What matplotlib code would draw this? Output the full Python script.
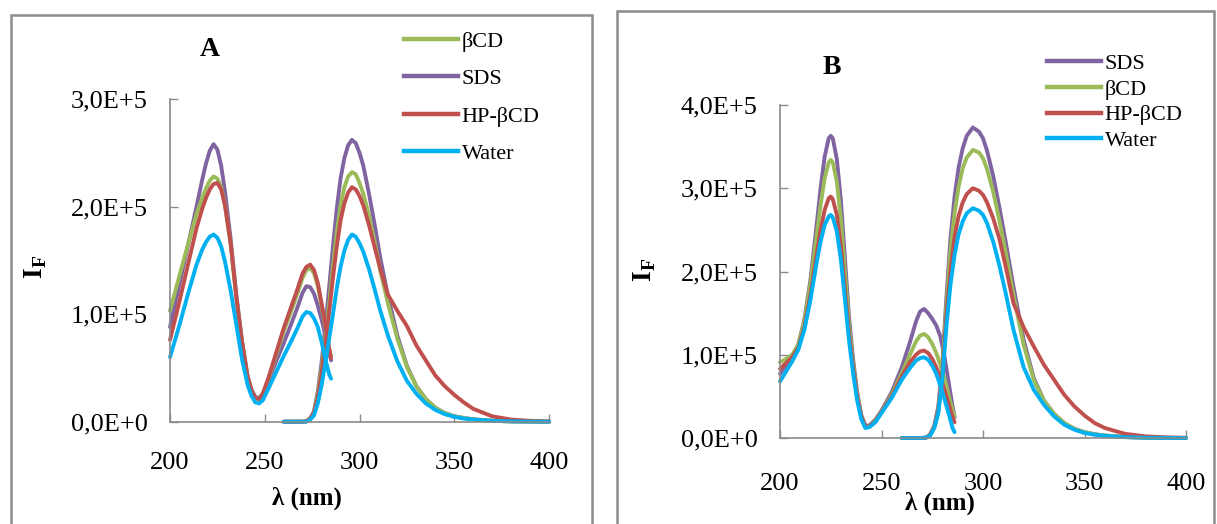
import matplotlib
matplotlib.use("Agg")
import matplotlib.pyplot as plt
from matplotlib.patches import Rectangle
from matplotlib.lines import Line2D

plt.rcParams['font.family'] = ['Liberation Serif', 'DejaVu Serif']
plt.rcParams['mathtext.fontset'] = 'custom'
plt.rcParams['mathtext.rm'] = 'Liberation Serif'
plt.rcParams['mathtext.bf'] = 'Liberation Serif:bold'

# ---------------- data (intensity in units of 1E+5) ----------------
x_ticks = [200, 250, 300, 350, 400]
x_tick_labels = ["200", "250", "300", "350", "400"]
yA_ticks = [0, 1, 2, 3]
yA_tick_labels = ["0,0E+0", "1,0E+5", "2,0E+5", "3,0E+5"]
yB_ticks = [0, 1, 2, 3, 4]
yB_tick_labels = ["0,0E+0", "1,0E+5", "2,0E+5", "3,0E+5", "4,0E+5"]

# Panel A - excitation
lamA_ex = [200, 205, 210, 214, 217, 219, 221, 223, 225, 227, 229, 232, 235, 238, 241, 243, 245,
           247, 249, 252, 256, 260, 264, 267, 270, 272, 274, 276, 278, 280, 282, 284, 285]
A_sds_ex = [0.88, 1.28, 1.68, 2.00, 2.25, 2.40, 2.52, 2.58, 2.53, 2.38, 2.14, 1.70, 1.18, 0.75, 0.42,
            0.30, 0.23, 0.22, 0.26, 0.38, 0.56, 0.73, 0.91, 1.05, 1.20, 1.26, 1.25, 1.19, 1.08, 0.95,
            0.80, 0.64, 0.57]
A_bcd_ex = [1.03, 1.36, 1.68, 1.93, 2.08, 2.17, 2.24, 2.28, 2.26, 2.18, 2.02, 1.65, 1.15, 0.74, 0.41,
            0.29, 0.22, 0.21, 0.26, 0.40, 0.62, 0.84, 1.03, 1.18, 1.34, 1.41, 1.43, 1.38, 1.26, 1.08,
            0.88, 0.68, 0.60]
A_hp_ex = [0.76, 1.12, 1.50, 1.80, 1.98, 2.08, 2.16, 2.21, 2.22, 2.16, 2.01, 1.66, 1.16, 0.74, 0.41,
           0.29, 0.22, 0.21, 0.26, 0.41, 0.64, 0.87, 1.07, 1.22, 1.38, 1.44, 1.46, 1.41, 1.29, 1.10,
           0.90, 0.68, 0.59]
A_water_ex = [0.60, 0.90, 1.22, 1.46, 1.60, 1.67, 1.72, 1.74, 1.71, 1.63, 1.49, 1.22, 0.90, 0.58, 0.34,
              0.24, 0.18, 0.17, 0.20, 0.31, 0.46, 0.61, 0.75, 0.86, 0.98, 1.02, 1.01, 0.96, 0.88, 0.74,
              0.58, 0.44, 0.40]

# Panel A - emission
lamA_em = [260, 265, 270, 272, 274, 276, 278, 280, 282, 284, 286, 288, 290, 292, 294, 296, 298, 300,
           302, 305, 308, 311, 315, 320, 325, 330, 335, 340, 345, 350, 355, 360, 370, 380, 390, 400]
A_sds_em = [0, 0, 0, 0.005, 0.03, 0.10, 0.28, 0.55, 0.88, 1.25, 1.63, 1.98, 2.26, 2.45, 2.57, 2.62,
            2.59, 2.50, 2.38, 2.12, 1.83, 1.52, 1.17, 0.80, 0.52, 0.33, 0.21, 0.13, 0.08, 0.05, 0.035,
            0.022, 0.009, 0.003, 0.001, 0]
A_bcd_em = [0, 0, 0, 0.005, 0.03, 0.09, 0.25, 0.49, 0.78, 1.10, 1.44, 1.76, 2.01, 2.18, 2.28, 2.32,
            2.30, 2.22, 2.12, 1.92, 1.67, 1.40, 1.10, 0.77, 0.51, 0.33, 0.21, 0.13, 0.08, 0.05, 0.035,
            0.022, 0.009, 0.003, 0.001, 0]
A_hp_em = [0, 0, 0, 0.005, 0.03, 0.08, 0.22, 0.45, 0.72, 1.02, 1.34, 1.63, 1.87, 2.03, 2.13, 2.18,
           2.16, 2.10, 2.01, 1.83, 1.62, 1.42, 1.18, 1.03, 0.89, 0.71, 0.57, 0.43, 0.33, 0.25, 0.18,
           0.12, 0.05, 0.02, 0.008, 0.003]
A_water_em = [0, 0, 0, 0.0, 0.02, 0.06, 0.17, 0.34, 0.55, 0.77, 1.00, 1.24, 1.44, 1.59, 1.69, 1.74,
              1.72, 1.66, 1.58, 1.42, 1.23, 1.03, 0.80, 0.56, 0.38, 0.26, 0.17, 0.11, 0.07, 0.045, 0.03,
              0.02, 0.008, 0.003, 0.001, 0]

# Panel B - excitation
lamB_ex = [200, 203, 206, 209, 212, 215, 218, 220, 222, 224, 225, 226, 228, 230, 232, 234, 236, 238,
           240, 242, 244, 247, 250, 255, 260, 264, 267, 269, 271, 273, 275, 277, 279, 281, 283, 285, 286]
B_sds_ex = [0.77, 0.88, 0.98, 1.12, 1.42, 1.90, 2.55, 3.00, 3.38, 3.60, 3.63, 3.60, 3.35, 2.85, 2.15,
            1.45, 0.95, 0.55, 0.28, 0.15, 0.15, 0.22, 0.33, 0.55, 0.85, 1.15, 1.40, 1.52, 1.55, 1.50,
            1.43, 1.35, 1.22, 0.98, 0.68, 0.38, 0.25]
B_bcd_ex = [0.91, 0.95, 1.00, 1.12, 1.40, 1.85, 2.42, 2.80, 3.12, 3.31, 3.34, 3.31, 3.08, 2.62, 1.98,
            1.35, 0.90, 0.52, 0.27, 0.14, 0.14, 0.21, 0.32, 0.52, 0.78, 1.00, 1.16, 1.23, 1.25, 1.21,
            1.13, 1.02, 0.88, 0.72, 0.52, 0.33, 0.26]
B_hp_ex = [0.83, 0.90, 0.97, 1.08, 1.33, 1.72, 2.20, 2.50, 2.74, 2.88, 2.90, 2.87, 2.68, 2.30, 1.78,
           1.25, 0.85, 0.50, 0.26, 0.14, 0.14, 0.20, 0.31, 0.50, 0.74, 0.91, 1.00, 1.04, 1.05, 1.02,
           0.95, 0.85, 0.72, 0.58, 0.42, 0.25, 0.19]
B_water_ex = [0.68, 0.80, 0.92, 1.06, 1.30, 1.66, 2.10, 2.36, 2.56, 2.66, 2.68, 2.65, 2.48, 2.14, 1.66,
              1.17, 0.78, 0.45, 0.23, 0.12, 0.13, 0.19, 0.30, 0.48, 0.70, 0.84, 0.93, 0.96, 0.97, 0.94,
              0.87, 0.77, 0.63, 0.47, 0.30, 0.12, 0.07]

# Panel B - emission
lamB_em = [260, 265, 270, 272, 274, 276, 278, 280, 282, 284, 286, 288, 290, 292, 295, 298, 300, 302,
           305, 308, 311, 315, 320, 325, 330, 335, 340, 345, 350, 355, 360, 370, 380, 390, 400]
B_sds_em = [0, 0, 0, 0.005, 0.04, 0.15, 0.38, 0.90, 1.70, 2.40, 2.90, 3.25, 3.48, 3.63, 3.73, 3.68,
            3.60, 3.45, 3.15, 2.78, 2.38, 1.82, 1.18, 0.72, 0.45, 0.29, 0.18, 0.11, 0.07, 0.045, 0.03,
            0.012, 0.004, 0.001, 0]
B_bcd_em = [0, 0, 0, 0.005, 0.04, 0.14, 0.35, 0.84, 1.60, 2.25, 2.70, 3.02, 3.24, 3.37, 3.46, 3.43,
            3.36, 3.23, 2.96, 2.62, 2.25, 1.72, 1.12, 0.70, 0.45, 0.29, 0.18, 0.11, 0.07, 0.045, 0.03,
            0.012, 0.004, 0.001, 0]
B_hp_em = [0, 0, 0, 0.005, 0.04, 0.13, 0.33, 0.78, 1.48, 2.02, 2.42, 2.67, 2.83, 2.93, 3.00, 2.97,
           2.92, 2.83, 2.64, 2.40, 2.08, 1.62, 1.33, 1.10, 0.88, 0.70, 0.52, 0.38, 0.27, 0.18, 0.12,
           0.05, 0.02, 0.008, 0.003]
B_water_em = [0, 0, 0, 0.005, 0.03, 0.12, 0.30, 0.72, 1.35, 1.85, 2.20, 2.45, 2.60, 2.70, 2.76, 2.73,
              2.68, 2.58, 2.36, 2.08, 1.76, 1.30, 0.85, 0.58, 0.40, 0.26, 0.16, 0.10, 0.06, 0.04, 0.025,
              0.01, 0.003, 0.001, 0]

C_SDS, C_BCD, C_HP, C_WATER = '#8064A2', '#9BBB59', '#C0504D', '#00B0F0'

W, H = 1217, 524
fig = plt.figure(figsize=(W / 100, H / 100), dpi=100)


def px_axes(x0, y0, x1, y1):
    return fig.add_axes([x0 / W, 1 - y1 / H, (x1 - x0) / W, (y1 - y0) / H])


LW = 2.8
SPINE = '#8a8a8a'


def style(ax, ymax, yticks, ylabels, xpad, ypad):
    ax.set_xlim(200, 400)
    ax.set_ylim(0, ymax)
    ax.set_xticks(x_ticks)
    ax.set_xticklabels(x_tick_labels)
    ax.set_yticks(yticks)
    ax.set_yticklabels(ylabels)
    for s in ['top', 'right']:
        ax.spines[s].set_visible(False)
    for s in ['left', 'bottom']:
        ax.spines[s].set_color(SPINE)
        ax.spines[s].set_linewidth(1.2)
    ax.tick_params(axis='both', direction='in', length=6, width=1.0, color=SPINE,
                   labelsize=19, labelcolor='black')
    ax.tick_params(axis='x', pad=xpad)
    ax.tick_params(axis='y', pad=ypad)


# ---------------- panel frames ----------------
fig.patches.append(Rectangle((11 / W, -0.1), (592 - 11) / W, 1 - 15 / H + 0.1,
                             transform=fig.transFigure, fill=False, edgecolor='#8c8c8c', lw=1.8))
fig.patches.append(Rectangle((617 / W, -0.1), (1214 - 617) / W, 1 - 11 / H + 0.1,
                             transform=fig.transFigure, fill=False, edgecolor='#8c8c8c', lw=1.8))

# ---------------- panel A ----------------
axA = px_axes(170, 99, 549, 421.7)
for lam_ex, ex, lam_em, em, c in [
        (lamA_ex, A_sds_ex, lamA_em, A_sds_em, C_SDS),
        (lamA_ex, A_bcd_ex, lamA_em, A_bcd_em, C_BCD),
        (lamA_ex, A_hp_ex, lamA_em, A_hp_em, C_HP),
        (lamA_ex, A_water_ex, lamA_em, A_water_em, C_WATER)]:
    axA.plot(lam_ex, ex, color=c, lw=LW, solid_capstyle='round', solid_joinstyle='round', clip_on=False)
    axA.plot(lam_em, em, color=c, lw=LW, solid_capstyle='round', solid_joinstyle='round', clip_on=False)
style(axA, 3, yA_ticks, yA_tick_labels, 22, 16)
fig.text(210 / W, 1 - 49 / H, 'A', ha='center', va='center', fontsize=20, fontweight='bold')
fig.text(307 / W, 1 - 498 / H, 'λ (nm)', ha='center', va='center', fontsize=18, fontweight='bold')
fig.text(36 / W, 1 - 267 / H, r'$\mathbf{I}_{\mathbf{F}}$', ha='center', va='center',
         rotation=90, fontsize=20)

namesA = ['βCD', 'SDS', 'HP-βCD', 'Water']
colorsA = [C_BCD, C_SDS, C_HP, C_WATER]
hA = [Line2D([], [], color=c, lw=3.2) for c in colorsA]
fig.legend(hA, namesA, loc='upper left', bbox_to_anchor=(404 / W, 1 - 31 / H),
           bbox_transform=fig.transFigure, frameon=False, fontsize=16, borderpad=0,
           borderaxespad=0, handlelength=2.45, handletextpad=0.15, labelspacing=0.765)

# ---------------- panel B ----------------
axB = px_axes(780, 105, 1186, 438)
for lam_ex, ex, lam_em, em, c in [
        (lamB_ex, B_sds_ex, lamB_em, B_sds_em, C_SDS),
        (lamB_ex, B_bcd_ex, lamB_em, B_bcd_em, C_BCD),
        (lamB_ex, B_hp_ex, lamB_em, B_hp_em, C_HP),
        (lamB_ex, B_water_ex, lamB_em, B_water_em, C_WATER)]:
    axB.plot(lam_ex, ex, color=c, lw=LW, solid_capstyle='round', solid_joinstyle='round', clip_on=False)
    axB.plot(lam_em, em, color=c, lw=LW, solid_capstyle='round', solid_joinstyle='round', clip_on=False)
style(axB, 4, yB_ticks, yB_tick_labels, 25, 16)
fig.text(832 / W, 1 - 68 / H, 'B', ha='center', va='center', fontsize=20, fontweight='bold')
fig.text(940 / W, 1 - 503 / H, 'λ (nm)', ha='center', va='center', fontsize=18, fontweight='bold')
fig.text(645 / W, 1 - 270 / H, r'$\mathbf{I}_{\mathbf{F}}$', ha='center', va='center',
         rotation=90, fontsize=20)

namesB = ['SDS', 'βCD', 'HP-βCD', 'Water']
colorsB = [C_SDS, C_BCD, C_HP, C_WATER]
hB = [Line2D([], [], color=c, lw=3.2) for c in colorsB]
fig.legend(hB, namesB, loc='upper left', bbox_to_anchor=(1047 / W, 1 - 53.5 / H),
           bbox_transform=fig.transFigure, frameon=False, fontsize=16, borderpad=0,
           borderaxespad=0, handlelength=2.45, handletextpad=0.15, labelspacing=0.23)

fig.savefig('out.png', dpi=100)
